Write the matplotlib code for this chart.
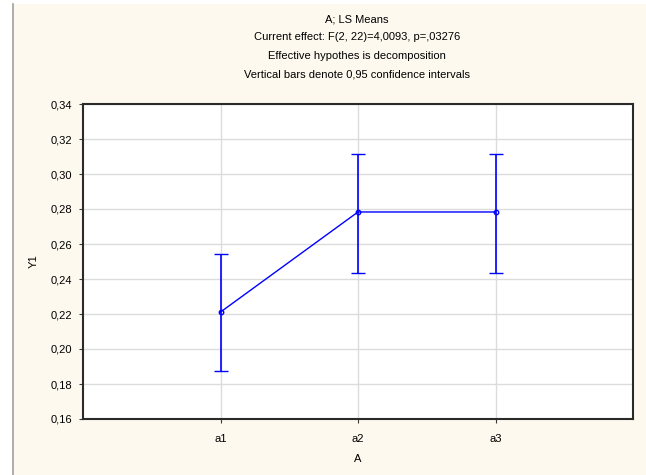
import matplotlib
matplotlib.use("Agg")
import matplotlib.pyplot as plt
from matplotlib.patches import Rectangle
from matplotlib.lines import Line2D

categories = ["a1", "a2", "a3"]
means = [0.2211, 0.2783, 0.2783]
upper = [0.2545, 0.3115, 0.3115]
lower = [0.1872, 0.2433, 0.2433]
yticks = [0.16, 0.18, 0.20, 0.22, 0.24, 0.26, 0.28, 0.30, 0.32, 0.34]
titles = ["A; LS Means",
          "Current effect: F(2, 22)=4,0093, p=,03276",
          "Effective hypothes is decomposition",
          "Vertical bars denote 0,95 confidence intervals"]

plt.rcParams['font.family'] = ['Liberation Sans', 'DejaVu Sans']
W, H = 646, 475
fig = plt.figure(figsize=(W/100, H/100), dpi=100)
fig.patch.set_facecolor("white")
cream = "#fef9ef"
fig.patches.append(Rectangle((13/W, 0), 1 - 13/W, 1 - 4/H, transform=fig.transFigure,
                             facecolor=cream, edgecolor="none", zorder=-10))
fig.lines.append(Line2D([13/W, 13/W], [0, 1 - 4/H], transform=fig.transFigure,
                        color="#a0a0a0", lw=1.2))

ax = fig.add_axes([83/W, 1 - 419/H, (633-83)/W, (419-104)/H])
ax.set_facecolor("white")
x = list(range(1, len(categories) + 1))
yerr = [[m - l for m, l in zip(means, lower)], [u - m for u, m in zip(upper, means)]]
ax.errorbar(x, means, yerr=yerr, color="#0000ff", lw=1.0, elinewidth=1.2, capsize=5,
            capthick=1.2, marker="o", markersize=3.2, markerfacecolor="none",
            markeredgecolor="#0000ff", markeredgewidth=1.0, zorder=3)
ax.set_xlim(0, 4)
ax.set_ylim(0.16, 0.34)
ax.set_xticks(x)
ax.set_xticklabels(categories)
ax.set_yticks(yticks)
ax.set_yticklabels([f"{v:.2f}".replace(".", ",") for v in yticks])
ax.grid(True, color="#dcdcdc", lw=1.0)
ax.set_axisbelow(True)
for s in ax.spines.values():
    s.set_color("#2a2a2a")
    s.set_linewidth(1.5)
ax.tick_params(labelsize=8, length=3, width=0.8, color="#3a3a3a")
ax.tick_params(axis="x", pad=8)
ax.tick_params(axis="y", pad=5)
ax.set_xlabel("A", fontsize=8, labelpad=7)
ax.set_ylabel("Y1", fontsize=8, labelpad=8)

for i, t in enumerate(titles):
    fig.text(357/W, 1 - (19 + i*18.5)/H, t, ha="center", va="center", fontsize=8)

fig.savefig("out.png", dpi=100, facecolor=fig.get_facecolor())
